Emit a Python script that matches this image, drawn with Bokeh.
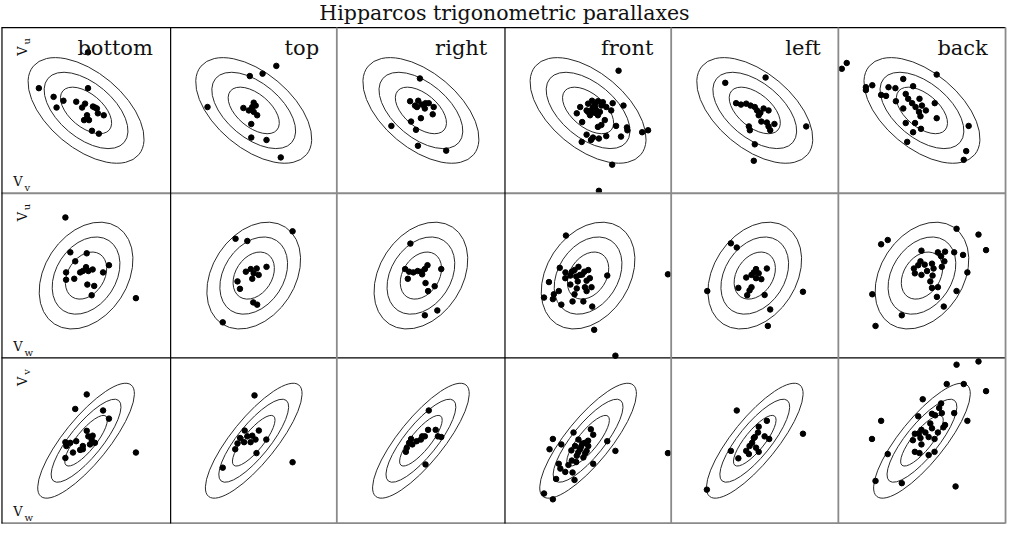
import numpy as np
from bokeh.plotting import figure
from bokeh.models import Range1d
from bokeh.embed import file_html
from bokeh.resources import INLINE
from bokeh.core.properties import value

TITLE = "Hipparcos trigonometric parallaxes"
GROUPS = ["bottom", "top", "right", "front", "left", "back"]
# (horizontal, vertical) velocity component of each row of panels
ROW_AXES = [("v", "u"), ("w", "u"), ("w", "v")]

# 1-sigma ellipse of each row (panel units), tilt in degrees
ELL_A = [20.35, 17.1, 21.2]
ELL_B = [11.3, 12.4, 6.7]
ELL_TILT = [-40.0, 56.8, 51.0]
CHI2_LEVELS = [2.30, 6.18, 11.83]

# ---- row 1 : V_v (x) vs V_u (y) ----
bottom_vu_x = [2, -48, 2, -33, -23, -30, -10, -1, -4, 7, 11, 12, 18, 1, -2, 3, 6, 13, 9]
bottom_vu_y = [60, 23, 23, 14, 10, 3, 9, 7, 3, 4, 2, -3, -5, -5, -10, -10, -21, -24, 3]
top_vu_x = [23, 9, -4, -47, -10.5, 0, 2, -5, 0, 3.5, -2.5, -2.5, 13, 27.5, -1.5]
top_vu_y = [46, 38, 35.5, 3.5, 2.5, 8, 5, 0, -1.5, -5, -14, -28, -30.5, -48.5, 3.5]
right_vu_x = [-1, -11, -2.7, -4, 1, 4, 8, 13, 12, 0, -10, -5, -30, -3, 25.7, -6, 4.7]
right_vu_y = [33, 9.5, 10, 3.5, 6, 2, 7.5, 3.5, -4, -8, -11.5, -20, -16, -36.5, -41.5, 5, 7.5]
front_vu_x = [31, -8, -11.5, -6, 0, 7, 10, 13.5, 3, 8.5, 10, 18.5, 25, 36, 13.5, 17, 10, 28.5,
              39.5, 40, 55, 61, 33.5, 18.5, 11, 5, -1.5, 3, -6.5, 24.5, 11, 5, 0, 7, -1.5, 23.5,
              15, 7, 12, 2, 4]
front_vu_y = [41, 3.5, -3, -12, 7, 7, 9.5, 5, 0, 0, -5, 3.5, 7.5, 5, -15, -10, -17, -16,
              -17.5, -20.5, -22.5, -20.5, -27, -26.5, -29, -28, -25, -30.5, -32.5, -56, -83, 3.5, -1.5, -2.5, 0, 0,
              8.5, 3.5, -1.5, -5, 10]
left_vu_x = [11, -30, -19, -14, -8.7, -4.3, 0, 2.3, 5.7, 9, 14, 4, 6.7, 12.3, 20, 14, 15.7, -6, -5, 52.3, 0, -1]
left_vu_y = [34, 28.5, 7.5, 6, 7, 5, 3.5, 0, -2.5, 2, 0, -5, -11.5, -12.5, -14, -16.5, -20.5, -16.5, -20.5, -16.5, -35, -52]
back_vu_x = [-76.5, -81.5, 15, -19, -50.5, -57, -57, -34, -27, -9, -41.5, -36.5, -16.5, -26.5, -14, -10,
             -2.5, -6.5, 0, 13, 4, -19, -3, -1.5, 15, -16.5, -7, -9, -1, -15, 47.5, 45, 42.5]
back_vu_y = [49, 43, 37, 32.5, 26, 24, 21, 24, 23, 25, 16, 15, 17, 9.5, 12, 7.5,
             12, 3.5, 5, 7.5, 0, 2, -1.5, -6, -8, -13, -13, -22.5, -19, -32.5, -16, -42, -51]

# ---- row 2 : V_w (x) vs V_u (y) ----
bottom_wu_x = [-21, -16, 0.7, -11, -20.3, -20.3, -12, -6, -3.3, 0, 2.3, 6.7, 23.3, 17.3, 1.3, 8.3, 5.7, 50.7]
bottom_wu_y = [60, 24, 23, 14.7, 3.3, -4.3, -3.3, 3.3, 4.7, 8.7, 4.7, 6.3, 10.7, 3.3, -9.3, -10.7, -20.3, -23.3]
top_wu_x = [-18.5, -6.5, 39.5, 13, -8, -3, 0, 3, 5, -1.5, -16.5, -14, -0.5, 3.5, -31.5]
top_wu_y = [38, 35.7, 45.7, 9, 4, 6.7, 2.3, 7.3, 0.7, -3.3, -6, -13.7, -27.7, -30, -48.3]
right_wu_x = [-10.7, -16, -12, -13.3, -7.7, -3.3, 1.3, 4, 6.7, 20.7, 4.7, 14, 7.3, 4, 16.7, 0.7]
right_wu_y = [33, 6.7, 4, -3.3, 3.3, 4.7, 1.3, 6.7, 10.7, 6.7, -7.7, -11, -16, -41, -36, 4]
front_wu_x = [-22.5, 81.2, 19.5, -28.8, -23, -18, -13.8, -9.8, -8.2, -3.8, 0.2, 1.8, -1.5, -10.5, -18,
              -3.2, 3.5, -1.5, -11.5, -13.8, -39.8, -29.8, -34.8, -44.8, -35.8, -27.2, -15.8, -4.8, 4.2,
              6.2, 27.8, -23.2, -16.5, -6, -12]
front_wu_y = [41.3, 1.3, 0, 8, 3.3, 0, 5.7, 9, 0.7, 4, 5.7, -2.7, -5.3, -6, -9.3,
              -12, -12, -16, -13.3, -19.3, -6.7, -16, -19.3, -22.7, -24.3, -30, -26.7, -26.7, -32,
              -56, -82.7, -2.7, 4, 1, -1]
left_wu_x = [-24.3, -18.3, -48.3, 49, 12.3, 1.3, -1, -3.3, 4, 1.3, 6.7, -8.7, -16.7, -3.3, -5.3, -7.7, 10, 15.7, 13.3]
left_wu_y = [33.3, 29, -16, -16.7, 7.3, 6.7, 3.3, 0.7, 2.3, -2.7, -3.7, -2, -12.7, -12, -15.3, -20.3, -20, -35, -52]
back_wu_x = [-41.5, -34.8, 35.2, 57.5, 65.2, -0.5, 16.2, 23.5, 32.8, 41.8, 19.5, 22.8, -1.5, 2.8, -3.8,
             10.2, 11.8, 20.2, -8.2, -7.2, -0.5, 5.2, 10.8, 46.2, 8.5, 10.2, 16.2, 35.2, 15.2, 22.2,
             -50.5, -20.5, -47.2]
back_wu_y = [32.3, 36.7, 48.3, 42.3, 26.3, 25.7, 24, 24.7, 24, 21.3, 20, 14.7, 14.7, 11.3, 10.7,
             12.3, 7.3, 9, 7.3, 2.3, 0.7, 4.7, 0, 3.3, -6, -12.7, -12, -16, -22, -32,
             -19.3, -41, -52]

# ---- row 3 : V_w (x) vs V_v (y) ----
bottom_wv_x = [0.7, -11, 17.3, 23.3, 0.7, 2.3, 5.7, 9, 4, -3.3, -6, -3.3, -10, -16, -21, -20, -13.3, -21, 50.7, 6.7]
bottom_wv_y = [47.8, 32.8, 31.2, 22.8, 10.2, 4.5, 1.2, -2.2, -3.8, -5.5, -9.5, -8.8, -0.5, -2.2, -1.5, -5.5, -12.2, -17.8, -12.2, 5.2]
top_wv_x = [0.8, -9.2, 5.2, -13.8, -6.5, -1.5, 1.8, -3.2, -9.8, -16.5, 12.8, -18.8, 2.8, -31.5, 39.5]
top_wv_y = [46.8, 10.5, 10.5, 2.8, 4.5, 5.2, 1.2, -1.5, -1.5, -2.8, 1.2, -8.8, -12.8, -27.8, -22.2]
right_wv_x = [8, 7.3, 15, 4, 0, -4.3, -10, -8.7, -14.3, -15.3, 17.3, 20.7, 4.7, -12, 1.3]
right_wv_y = [31.2, 11.2, 11.2, 4.5, 1.2, -0.5, 1.8, -3.8, -7.2, -11.5, 4.5, 3.8, -24.5, -2.2, 4.5]
front_wv_x = [81.2, -35.8, -39.2, -27.2, -14.8, 2.8, 5.2, 19.5, 27.8, -9.8, -3.2, -13.2, -8.2, -1.5,
              -11.5, -16.5, -4.8, 0.2, 5.2, -29.8, -28.2, -23.2, -15.8, -32.5, -13.8, -44.8, -35.8,
              -6, -10, -3, -20, -12, -7, 0, -17]
front_wv_y = [-12.8, 1.8, -8.8, -3.8, 8.5, 11.8, 6.2, -0.5, -10.5, 1.2, -2.2, -5.5, -8.8, -10.5,
              -15.5, -20.5, -17.2, -5.5, -23.8, -23.8, -28.8, -32.2, -32.8, -39.5, -40.5, -54.5, -60.5,
              -3, -12, -13, -25, -22, -6, 0, -10]
left_wv_x = [-18.3, 49, 12.3, 4, 3.3, 0, 10, 14.7, -2.7, -5.3, 1.3, 4, -8.7, -6, -24.3, -16.7, -48.7, -1]
left_wv_y = [31.2, 7.2, 20.5, 14.5, 8.5, 3.8, 4.5, 1.8, -2.2, -5.5, -7.2, -11.5, -10.5, -13.8, -10.5, -18.2, -50.5, 2.8]
back_wv_x = [35.2, 57.5, 65.2, 25.2, 42.5, 0.8, -41.5, -50.8, 19.5, 17.5, 10.2, 13.5, 20.2, 32.8, 46.2,
             -3.8, 8.5, 23.5, 21.8, -0.5, -3.2, -7.2, 3.5, 10.2, 16.2, 6.8, 12.8, -1.5, -9.2, -0.5,
             -7.2, -2.5, 6.8, 12.8, -34.8, -47.2, -20.5, 34.2]
back_wv_y = [78.5, 81.8, 51.2, 58.5, 58.5, 42.8, 20.5, 1.8, 38.5, 33.8, 27.8, 26.2, 28.5, 28.5, 20.5,
             25.2, 17.8, 16.2, 13.8, 11.2, 7.2, 7.2, 8.5, 12.8, 8.5, 3.8, 1.8, 2.8, 0.5, -3.8,
             -11.5, -12.8, -14.8, -11.5, -13.8, -41.5, -43.8, -47.2]

DATA = {
    ("vu", "x"): [bottom_vu_x, top_vu_x, right_vu_x, front_vu_x, left_vu_x, back_vu_x],
    ("vu", "y"): [bottom_vu_y, top_vu_y, right_vu_y, front_vu_y, left_vu_y, back_vu_y],
    ("wu", "x"): [bottom_wu_x, top_wu_x, right_wu_x, front_wu_x, left_wu_x, back_wu_x],
    ("wu", "y"): [bottom_wu_y, top_wu_y, right_wu_y, front_wu_y, left_wu_y, back_wu_y],
    ("wv", "x"): [bottom_wv_x, top_wv_x, right_wv_x, front_wv_x, left_wv_x, back_wv_x],
    ("wv", "y"): [bottom_wv_y, top_wv_y, right_wv_y, front_wv_y, left_wv_y, back_wv_y],
}

# ---- layout (canvas units) ----
W, H = 1023, 540
COL_EDGES = [0, 172, 341, 512, 681, 851, 1021]
ROW_EDGES = [512, 341, 171, 0]   # top of grid downwards (y up)

p = figure(width=1007, height=524, x_range=Range1d(-1, W), y_range=Range1d(-1, H),
           output_backend="svg", toolbar_location=None, min_border=0,
           background_fill_color="white", border_fill_color="white")
p.axis.visible = False
p.grid.visible = False
p.outline_line_color = None

SERIF = value("DejaVu Serif")

px, py = [], []
ex, ey, ew, eh, ea = [], [], [], [], []
for r, (hx, vy) in enumerate(ROW_AXES):
    key = hx + vy
    cy = 0.5 * (ROW_EDGES[r] + ROW_EDGES[r + 1])
    for c in range(6):
        cx = 0.5 * (COL_EDGES[c] + COL_EDGES[c + 1])
        px.extend(cx + np.asarray(DATA[(key, "x")][c], float))
        py.extend(cy + np.asarray(DATA[(key, "y")][c], float))
        for lev in CHI2_LEVELS:
            s = np.sqrt(lev)
            ex.append(cx); ey.append(cy)
            ew.append(2 * ELL_A[r] * s); eh.append(2 * ELL_B[r] * s)
            ea.append(np.deg2rad(ELL_TILT[r]))

p.ellipse(x=ex, y=ey, width=ew, height=eh, angle=ea, fill_color=None,
          line_color="#2a2a2a", line_width=1)
p.scatter(x=px, y=py, size=5.5, marker="circle", fill_color="black", line_color="black")

# grid frame
black_h = [ROW_EDGES[0], ROW_EDGES[2]]
gray_h = [ROW_EDGES[1], ROW_EDGES[3] + 0.5]
p.segment(x0=[COL_EDGES[0]] * 2, x1=[COL_EDGES[-1]] * 2, y0=black_h, y1=black_h,
          line_color="black", line_width=1.2)
p.segment(x0=[COL_EDGES[0]] * 2, x1=[COL_EDGES[-1]] * 2, y0=gray_h, y1=gray_h,
          line_color="#8a8a8a", line_width=1.8)
black_v = [COL_EDGES[0] + 0.5, COL_EDGES[1], COL_EDGES[3]]
gray_v = [COL_EDGES[2], COL_EDGES[4], COL_EDGES[5], COL_EDGES[6]]
p.segment(x0=black_v, x1=black_v, y0=[0] * 3, y1=[ROW_EDGES[0]] * 3,
          line_color="black", line_width=1.2)
p.segment(x0=gray_v, x1=gray_v, y0=[0] * 4, y1=[ROW_EDGES[0]] * 4,
          line_color="#8a8a8a", line_width=1.8)

# title
p.text(x=[W / 2], y=[H - 13], text=[TITLE], text_font=SERIF, text_font_size="20.5px",
       text_align="center", text_baseline="middle", text_color="#111")

# panel labels
p.text(x=[COL_EDGES[c + 1] - 18 for c in range(6)], y=[ROW_EDGES[0] - 21] * 6, text=GROUPS,
       text_font=SERIF, text_font_size="21px", text_align="right", text_baseline="alphabetic",
       text_color="#111")

# axis labels in first column
for r, (hx, vy) in enumerate(ROW_AXES):
    top, bot = ROW_EDGES[r], ROW_EDGES[r + 1]
    p.text(x=[12], y=[bot + 12], text=["V"], text_font=SERIF, text_font_size="13px",
           text_align="left", text_baseline="alphabetic", text_color="#111")
    p.text(x=[23.5], y=[bot + 6], text=[hx], text_font=SERIF, text_font_size="10px",
           text_align="left", text_baseline="alphabetic", text_color="#111")
    p.text(x=[21], y=[top - 29], text=["V"], text_font=SERIF, text_font_size="13px",
           angle=np.pi / 2, text_align="left", text_baseline="alphabetic", text_color="#111")
    p.text(x=[25.5], y=[top - 17.5], text=[vy], text_font=SERIF, text_font_size="10px",
           angle=np.pi / 2, text_align="left", text_baseline="alphabetic", text_color="#111")

open("out.html", "w").write(file_html(p, INLINE))
